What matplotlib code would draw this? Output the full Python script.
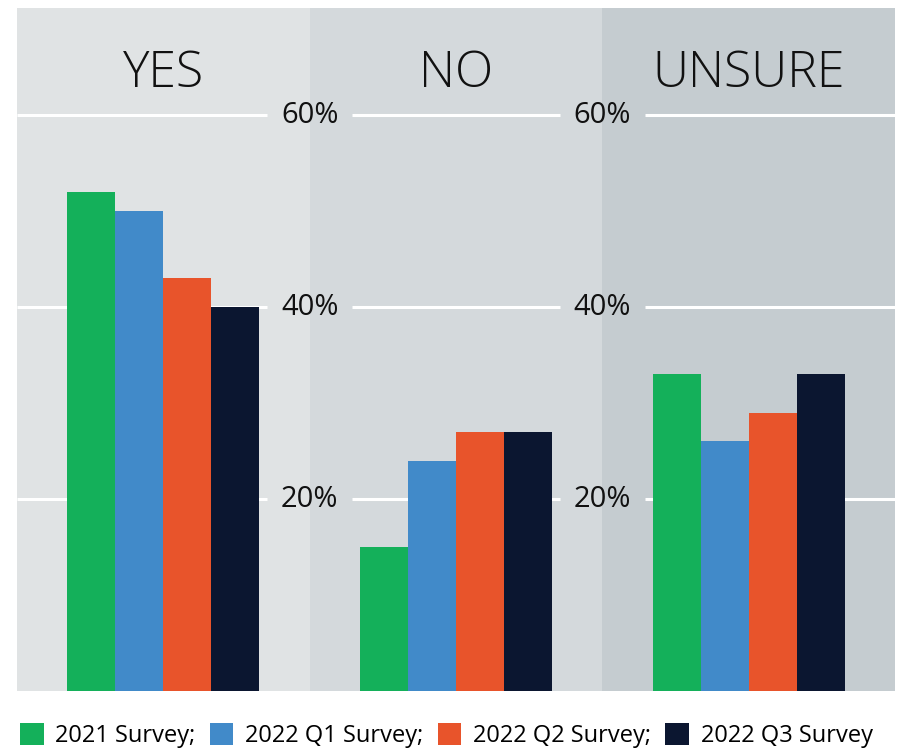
import matplotlib
matplotlib.use("Agg")
import matplotlib.pyplot as plt
from matplotlib.patches import Patch
import numpy as np

plt.rcParams['font.family'] = ['Open Sans', 'DejaVu Sans']

categories = ["YES", "NO", "UNSURE"]
series_names = ["2021 Survey;", "2022 Q1 Survey;", "2022 Q2 Survey;", "2022 Q3 Survey"]
s2021 = [52, 15, 33]
s2022q1 = [50, 24, 26]
s2022q2 = [43, 27, 29]
s2022q3 = [40, 27, 33]
yticks = [20, 40, 60]
tick_labels = ["20%", "40%", "60%"]

series = [s2021, s2022q1, s2022q2, s2022q3]
colors = ["#14b05a", "#418ac9", "#e8542b", "#0b1630"]
panel_colors = ["#e0e3e4", "#d4d9dc", "#c5ccd0"]

W, H = 898, 750
fig = plt.figure(figsize=(W / 100, H / 100), dpi=100)
ax = fig.add_axes([17 / W, (H - 691) / H, (895 - 17) / W, (691 - 8) / H])

ymax = 71.15
ax.set_xlim(-0.5, len(categories) - 0.5)
ax.set_ylim(0, ymax)

# panel backgrounds
for i, c in enumerate(panel_colors):
    ax.axvspan(i - 0.5, i + 0.5, color=c, zorder=0, lw=0)

# gridlines with gaps for labels at panel boundaries
gap = 0.146
x = np.arange(len(categories))
for t, lab in zip(yticks, tick_labels):
    segs = []
    start = -0.5
    for b in range(1, len(categories)):
        bx = b - 0.5
        segs.append((start, bx - gap))
        start = bx + gap
        ax.text(bx, t, lab, ha='center', va='center', fontsize=21,
                color='#111111', zorder=4)
    segs.append((start, len(categories) - 0.5))
    for a, b in segs:
        ax.plot([a, b], [t, t], color='white', lw=2.2, zorder=1,
                solid_capstyle='butt')

bw = 48 / 293
n = len(series)
for k, (vals, col) in enumerate(zip(series, colors)):
    offs = (k - (n - 1) / 2) * bw
    ax.bar(x + offs, vals, width=bw, color=col, zorder=3, lw=0)

for i, cat in enumerate(categories):
    ax.text(i, 62.9, cat, ha='center', va='baseline', fontsize=36,
            fontweight='light', color='#111111', zorder=4)

ax.set_xticks([])
ax.set_yticks([])
for sp in ax.spines.values():
    sp.set_visible(False)

handles = [Patch(facecolor=c, edgecolor='none') for c in colors]
fig.legend(handles, series_names, loc='center', bbox_to_anchor=(0.497, 0.019),
           ncol=4, frameon=False, fontsize=17, handlelength=1.0,
           handleheight=1.0, handletextpad=0.5, columnspacing=0.6,
           borderpad=0, borderaxespad=0)

fig.savefig("out.png", dpi=100)
